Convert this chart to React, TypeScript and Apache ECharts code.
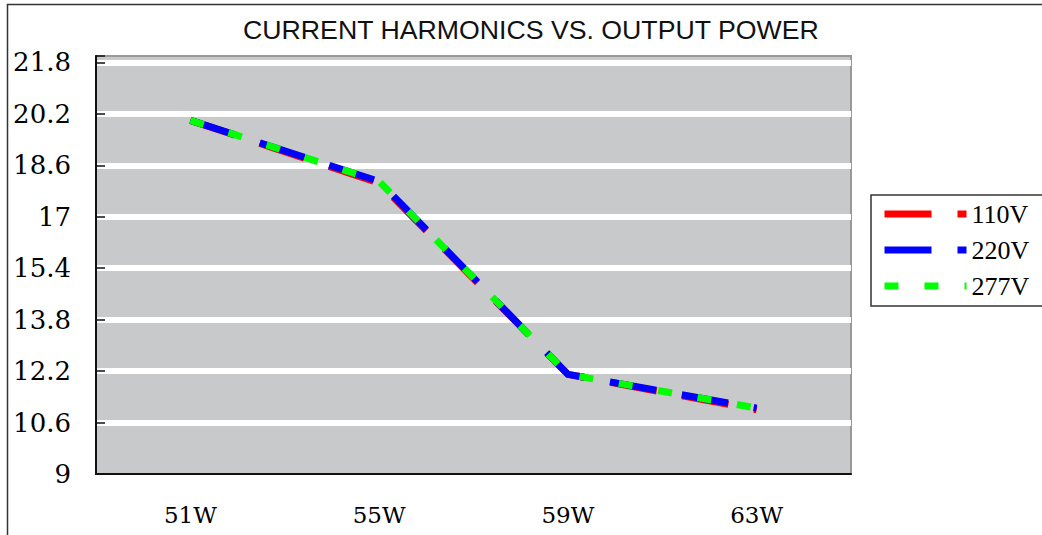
import React, { useEffect, useRef } from "react";
import * as echarts from "echarts";

const categories = ["51W", "55W", "59W", "63W"];
const v110 = [20.0, 18.05, 12.1, 11.0];
const v220 = [20.0, 18.1, 12.1, 11.05];
const v277 = [20.0, 18.1, 12.1, 11.05];
const seriesNames = ["110V", "220V", "277V"];
const seriesColors = ["#ff0000", "#0000ff", "#00ff00"];

export default function App() {
  const ref = useRef<HTMLDivElement>(null);
  useEffect(() => {
    if (!ref.current) return;
    const chart = echarts.init(ref.current, null, { renderer: "svg" });
    const mk = (name: string, data: number[], color: string, dash: number[]) => ({
      name,
      type: "line",
      data,
      symbol: "none",
      color,
      lineStyle: { color, width: 7, type: dash, cap: "butt", join: "miter" },
    });
    chart.setOption({
      animation: false,
      backgroundColor: "#ffffff",
      title: {
        text: "CURRENT HARMONICS VS. OUTPUT POWER",
        left: 243,
        top: 16,
        padding: 0,
        textStyle: { fontFamily: "Liberation Sans", fontSize: 26.7, fontWeight: "normal", color: "#111" },
      },
      graphic: [
        {
          type: "rect",
          shape: { x: 7.5, y: 4.5, width: 1200, height: 700 },
          style: { fill: "none", stroke: "#333", lineWidth: 1.5 },
          silent: true,
        },
      ],
      legend: {
        orient: "vertical",
        left: 871,
        top: 195,
        itemWidth: 82,
        itemHeight: 2,
        itemGap: 10,
        padding: [6, 17, 7, 10],
        borderColor: "#333",
        borderWidth: 1.5,
        lineStyle: { width: 7 },
        textStyle: { fontFamily: "Liberation Serif", fontSize: 26, lineHeight: 25, color: "#000" },
        data: seriesNames,
      },
      grid: {
        left: 96,
        right: 191,
        top: 56,
        bottom: 61,
        show: true,
        backgroundColor: "#c8c9cb",
        borderColor: "#999",
        borderWidth: 2,
      },
      xAxis: {
        type: "category",
        data: categories,
        boundaryGap: true,
        axisLine: { lineStyle: { color: "#111", width: 2 } },
        axisTick: { inside: true, length: 9, lineStyle: { color: "#111", width: 1.5 } },
        axisLabel: { margin: 29, fontFamily: "DejaVu Serif", fontSize: 23, color: "#000" },
        splitLine: { show: false },
      },
      yAxis: {
        type: "value",
        min: 9,
        max: 22,
        interval: 1.6,
        axisLine: { show: true, lineStyle: { color: "#111", width: 2 } },
        axisTick: { show: true, inside: true, length: 9, lineStyle: { color: "#111", width: 1.5 } },
        axisLabel: {
          margin: 25,
          fontFamily: "DejaVu Serif",
          fontSize: 26,
          color: "#000",
          formatter: (v: number) => (v >= 21.95 ? "" : String(Math.round(v * 10) / 10)),
        },
        splitLine: { show: true, showMinLine: false, showMaxLine: false, lineStyle: { color: "#ffffff", width: 6 } },
      },
      series: [
        mk(seriesNames[0], v110, seriesColors[0], [47, 26]),
        mk(seriesNames[1], v220, seriesColors[1], [47, 26]),
        mk(seriesNames[2], v277, seriesColors[2], [14, 26]),
      ],
    });
    return () => chart.dispose();
  }, []);
  return <div ref={ref} style={{ position: "absolute", left: 0, top: 0, width: 1042, height: 535 }} />;
}
